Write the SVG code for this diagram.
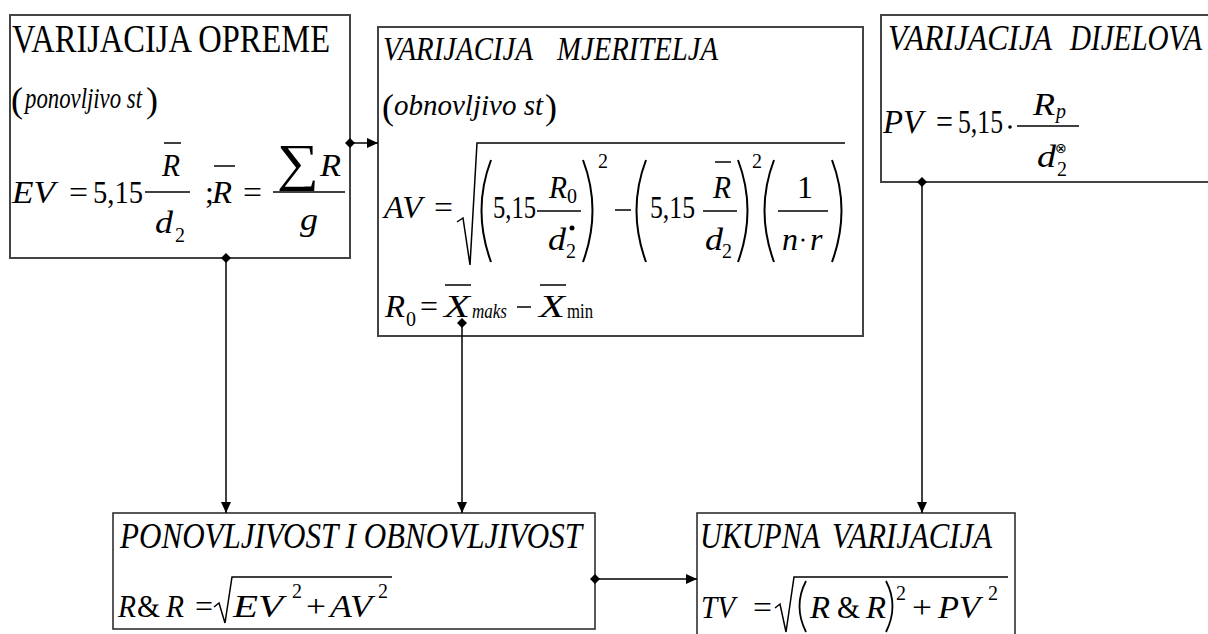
<svg xmlns="http://www.w3.org/2000/svg" width="1208" height="634" viewBox="0 0 1208 634">
<defs>
<marker id="arr" markerUnits="userSpaceOnUse" markerWidth="12" markerHeight="12" refX="11" refY="5" orient="auto"><path d="M0,0 L11,5 L0,10 Z" fill="#000"/></marker>
<marker id="dia" markerUnits="userSpaceOnUse" markerWidth="12" markerHeight="12" refX="5" refY="5" orient="auto"><path d="M0,5 L5,0 L10,5 L5,10 Z" fill="#000"/></marker>
</defs>
<rect width="1208" height="634" fill="#fff"/>

<g id="node-oprema" style="font-family:'Liberation Serif',serif">
<rect x="10" y="15" width="340" height="243" fill="#fff" stroke="#444" stroke-width="2"/>
<text x="12" y="52" font-size="40" textLength="318" lengthAdjust="spacingAndGlyphs">VARIJACIJA OPREME</text>
<text x="11" y="112" font-size="36">(</text>
<text font-style="italic" x="25" y="108" font-size="30" textLength="117" lengthAdjust="spacingAndGlyphs">ponovljivo st</text>
<text x="146" y="112" font-size="36">)</text>
<text font-style="italic" font-size="32" x="12" y="203" textLength="43" lengthAdjust="spacingAndGlyphs">EV</text>
<text font-size="32" x="69" y="203" textLength="19" lengthAdjust="spacingAndGlyphs">=</text>
<text font-size="32" x="93" y="203" textLength="50" lengthAdjust="spacingAndGlyphs">5,15</text>
<line x1="145" y1="192" x2="190" y2="192" stroke="#000" stroke-width="1.5"/>
<text font-style="italic" font-size="32" x="162" y="176" textLength="18" lengthAdjust="spacingAndGlyphs">R</text>
<line x1="164" y1="143" x2="181" y2="143" stroke="#000" stroke-width="1.5"/>
<text font-style="italic" font-size="32" x="155" y="233" textLength="18" lengthAdjust="spacingAndGlyphs">d</text>
<text font-size="20" x="175" y="242">2</text>
<text font-size="32" x="205" y="203">;</text>
<text font-style="italic" font-size="32" x="212" y="203" textLength="20" lengthAdjust="spacingAndGlyphs">R</text>
<line x1="214" y1="166" x2="235" y2="166" stroke="#000" stroke-width="1.5"/>
<text font-size="32" x="243" y="203" textLength="19" lengthAdjust="spacingAndGlyphs">=</text>
<line x1="273" y1="192" x2="345" y2="192" stroke="#000" stroke-width="1.5"/>
<text x="277" y="180" font-size="52" textLength="42" lengthAdjust="spacingAndGlyphs">&#8721;</text>
<text font-style="italic" font-size="32" x="320" y="176" textLength="21" lengthAdjust="spacingAndGlyphs">R</text>
<text font-style="italic" font-size="32" x="300" y="230" textLength="18" lengthAdjust="spacingAndGlyphs">g</text>
</g>

<g id="node-mjeritelja" font-family="serif">
<rect x="378" y="27" width="485" height="309" fill="#fff" stroke="#444" stroke-width="2"/>
<text font-style="italic" x="383" y="60" font-size="33" textLength="150" lengthAdjust="spacingAndGlyphs">VARIJACIJA</text>
<text font-style="italic" x="557" y="60" font-size="33" textLength="161" lengthAdjust="spacingAndGlyphs">MJERITELJA</text>
<text x="382" y="119" font-size="36">(</text>
<text font-style="italic" x="394" y="115" font-size="30" textLength="149" lengthAdjust="spacingAndGlyphs">obnovljivo st</text>
<text x="545" y="119" font-size="36">)</text>
<text font-style="italic" font-size="32" x="384" y="218" textLength="38" lengthAdjust="spacingAndGlyphs">AV</text>
<text font-size="32" x="434" y="218" textLength="19" lengthAdjust="spacingAndGlyphs">=</text>
<path d="M457,222 L463,218 L470,265 L477,143 L845,143" fill="none" stroke="#000" stroke-width="1.5"/>
<path d="M491,160 Q472,210 491,262" fill="none" stroke="#000" stroke-width="2"/>
<text font-size="32" x="493" y="218" textLength="43" lengthAdjust="spacingAndGlyphs">5,15</text>
<line x1="537" y1="211" x2="581" y2="211" stroke="#000" stroke-width="1.5"/>
<text font-style="italic" font-size="32" x="549" y="198" textLength="18" lengthAdjust="spacingAndGlyphs">R</text>
<text font-size="20" x="567" y="203">0</text>
<text font-style="italic" font-size="32" x="548" y="250" textLength="18" lengthAdjust="spacingAndGlyphs">d</text>
<circle cx="572" cy="228" r="2.5" fill="#000"/>
<text font-size="20" x="566" y="258">2</text>
<path d="M583,160 Q602,210 583,262" fill="none" stroke="#000" stroke-width="2"/>
<text font-size="20" x="598" y="168">2</text>
<line x1="615" y1="210" x2="631" y2="210" stroke="#000" stroke-width="1.5"/>
<path d="M646,160 Q627,210 646,262" fill="none" stroke="#000" stroke-width="2"/>
<text font-size="32" x="650" y="218" textLength="45" lengthAdjust="spacingAndGlyphs">5,15</text>
<line x1="703" y1="211" x2="737" y2="211" stroke="#000" stroke-width="1.5"/>
<text font-style="italic" font-size="32" x="713" y="198" textLength="18" lengthAdjust="spacingAndGlyphs">R</text>
<line x1="715" y1="162" x2="731" y2="162" stroke="#000" stroke-width="1.5"/>
<text font-style="italic" font-size="32" x="705" y="250" textLength="18" lengthAdjust="spacingAndGlyphs">d</text>
<text font-size="20" x="722" y="258">2</text>
<path d="M738,160 Q757,210 738,262" fill="none" stroke="#000" stroke-width="2"/>
<text font-size="20" x="752" y="168">2</text>
<path d="M774,160 Q755,210 774,262" fill="none" stroke="#000" stroke-width="2"/>
<line x1="778" y1="211" x2="828" y2="211" stroke="#000" stroke-width="1.5"/>
<text font-size="32" x="797" y="198">1</text>
<text font-style="italic" font-size="32" x="782" y="250">n</text>
<circle cx="803" cy="240" r="1.6" fill="#000"/>
<text font-style="italic" font-size="32" x="810" y="250">r</text>
<path d="M832,160 Q851,210 832,262" fill="none" stroke="#000" stroke-width="2"/>
<text font-style="italic" font-size="32" x="385" y="317" textLength="20" lengthAdjust="spacingAndGlyphs">R</text>
<text font-size="20" x="406" y="326">0</text>
<text font-size="32" x="420" y="317" textLength="18" lengthAdjust="spacingAndGlyphs">=</text>
<text font-style="italic" font-size="32" x="444" y="317" textLength="26" lengthAdjust="spacingAndGlyphs">X</text>
<line x1="445" y1="285" x2="471" y2="285" stroke="#000" stroke-width="1.5"/>
<text font-style="italic" font-size="20" x="472" y="318" textLength="35" lengthAdjust="spacingAndGlyphs">maks</text>
<line x1="517" y1="307" x2="531" y2="307" stroke="#000" stroke-width="1.5"/>
<text font-style="italic" font-size="32" x="539" y="317" textLength="26" lengthAdjust="spacingAndGlyphs">X</text>
<line x1="540" y1="285" x2="566" y2="285" stroke="#000" stroke-width="1.5"/>
<text font-size="20" x="567" y="318" textLength="26" lengthAdjust="spacingAndGlyphs">min</text>
</g>

<g id="node-dijelova" font-family="Times New Roman, serif">
<rect x="881" y="15" width="340" height="167" fill="#fff" stroke="#444" stroke-width="2"/>
<text font-style="italic" x="888" y="50" font-size="36" textLength="164" lengthAdjust="spacingAndGlyphs">VARIJACIJA</text>
<text font-style="italic" x="1070" y="50" font-size="36" textLength="132" lengthAdjust="spacingAndGlyphs">DIJELOVA</text>
<text font-style="italic" x="883" y="133" font-size="34" textLength="40" lengthAdjust="spacingAndGlyphs">PV</text>
<text x="936" y="133" font-size="34" textLength="17" lengthAdjust="spacingAndGlyphs">=</text>
<text x="958" y="133" font-size="34" textLength="45" lengthAdjust="spacingAndGlyphs">5,15</text>
<circle cx="1010" cy="127" r="1.8" fill="#000"/>
<line x1="1017" y1="126" x2="1079" y2="126" stroke="#000" stroke-width="1.5"/>
<text font-style="italic" font-size="32" x="1033" y="115" textLength="22" lengthAdjust="spacingAndGlyphs">R</text>
<text font-style="italic" font-size="20" x="1056" y="118">p</text>
<text font-style="italic" font-size="32" x="1037" y="167" textLength="19" lengthAdjust="spacingAndGlyphs">d</text>
<text x="1055" y="153" font-size="14">&#8855;</text>
<text font-size="20" x="1057" y="176">2</text>
</g>

<g id="node-rr" font-family="'Liberation Serif', 'Times New Roman', serif">
<rect x="113" y="513" width="482" height="116" fill="#fff" stroke="#222" stroke-width="1.5"/>
<text font-style="italic" x="120" y="548" font-size="35" textLength="462" lengthAdjust="spacingAndGlyphs">PONOVLJIVOST I OBNOVLJIVOST</text>
<text font-style="italic" font-size="32" x="118" y="617" textLength="18" lengthAdjust="spacingAndGlyphs">R</text>
<text font-size="32" x="137" y="617" textLength="23" lengthAdjust="spacingAndGlyphs">&amp;</text>
<text font-style="italic" font-size="32" x="166" y="617" textLength="18" lengthAdjust="spacingAndGlyphs">R</text>
<text font-size="32" x="195" y="617" textLength="18" lengthAdjust="spacingAndGlyphs">=</text>
<path d="M214,607 L219,603 L225,623 L232,577 L392,577" fill="none" stroke="#000" stroke-width="1.5"/>
<text font-style="italic" font-size="32" x="233" y="617" textLength="50" lengthAdjust="spacingAndGlyphs">EV</text>
<text font-size="20" x="292" y="598">2</text>
<text font-size="32" x="306" y="617" textLength="20" lengthAdjust="spacingAndGlyphs">+</text>
<text font-style="italic" font-size="32" x="330" y="617" textLength="42" lengthAdjust="spacingAndGlyphs">AV</text>
<text font-size="20" x="378" y="598">2</text>
</g>

<g id="node-ukupna">
<rect x="697" y="513" width="318" height="140" fill="#fff" stroke="#222" stroke-width="1.5"/>
<text font-family="Liberation Serif" font-style="italic" x="700" y="548" font-size="35" textLength="120" lengthAdjust="spacingAndGlyphs">UKUPNA</text>
<text font-family="Liberation Serif" font-style="italic" x="832" y="548" font-size="35" textLength="160" lengthAdjust="spacingAndGlyphs">VARIJACIJA</text>
<text font-family="Liberation Serif" font-style="italic" font-size="32" x="701" y="618" textLength="34" lengthAdjust="spacingAndGlyphs">TV</text>
<text font-family="Liberation Serif" font-size="32" x="753" y="618" textLength="19" lengthAdjust="spacingAndGlyphs">=</text>
<path d="M775,608 L780,604 L786,632 L794,577 L1008,577" fill="none" stroke="#000" stroke-width="1.5"/>
<path d="M806,581 Q793,606 806,632" fill="none" stroke="#000" stroke-width="1.8"/>
<text font-family="Liberation Serif" font-style="italic" font-size="32" x="810" y="618" textLength="20" lengthAdjust="spacingAndGlyphs">R</text>
<text font-family="Liberation Serif" font-size="32" x="837" y="618" textLength="23" lengthAdjust="spacingAndGlyphs">&amp;</text>
<text font-family="Liberation Serif" font-style="italic" font-size="32" x="866" y="618" textLength="20" lengthAdjust="spacingAndGlyphs">R</text>
<path d="M886,581 Q899,606 886,632" fill="none" stroke="#000" stroke-width="1.8"/>
<text font-family="Liberation Serif" font-size="20" x="896" y="600">2</text>
<text font-family="Liberation Serif" font-size="32" x="912" y="618" textLength="20" lengthAdjust="spacingAndGlyphs">+</text>
<text font-family="Liberation Serif" font-style="italic" font-size="32" x="938" y="618" textLength="42" lengthAdjust="spacingAndGlyphs">PV</text>
<text font-family="Liberation Serif" font-size="20" x="988" y="600">2</text>
</g>

<g id="connectors" fill="none" stroke="#000" stroke-width="1.5" marker-start="url(#dia)" marker-end="url(#arr)">
<path d="M350,143 L378,143"/>
<path d="M226,258 L226,513"/>
<path d="M462,323 L462,513"/>
<path d="M922,182 L922,513"/>
<path d="M595,579 L697,579"/>
</g>
</svg>
